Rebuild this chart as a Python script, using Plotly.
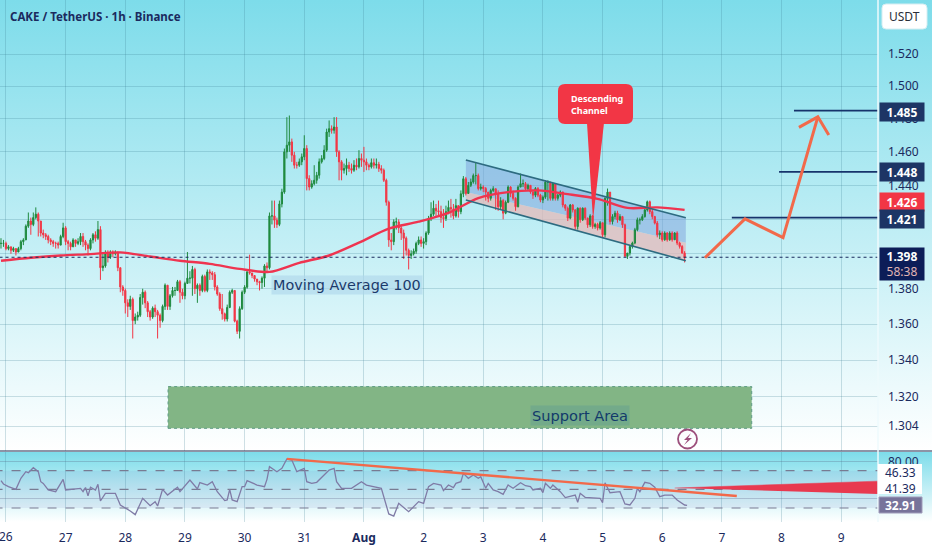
import base64
from datetime import datetime, timedelta
from math import log10

import plotly.graph_objects as go

# hourly candles, one row = 12 hours
closes = [
    1.406, 1.406, 1.403, 1.404, 1.402, 1.403, 1.401, 1.403, 1.407, 1.408, 1.416, 1.419,
    1.417, 1.421, 1.423, 1.419, 1.412, 1.411, 1.410, 1.408, 1.407, 1.406, 1.406, 1.405,
    1.410, 1.415, 1.407, 1.406, 1.404, 1.408, 1.406, 1.407, 1.410, 1.407, 1.405, 1.403,
    1.408, 1.411, 1.409, 1.414, 1.392, 1.393, 1.400, 1.398, 1.401, 1.400, 1.401, 1.392,
    1.381, 1.379, 1.372, 1.370, 1.374, 1.362, 1.364, 1.365, 1.375, 1.378, 1.372, 1.367,
    1.364, 1.369, 1.367, 1.365, 1.362, 1.370, 1.382, 1.370, 1.376, 1.379, 1.379, 1.384,
    1.378, 1.376, 1.383, 1.386, 1.386, 1.391, 1.380, 1.382, 1.379, 1.387, 1.379, 1.3896,
    1.389, 1.388, 1.381, 1.377, 1.3687, 1.3658, 1.3629, 1.3694, 1.378,
    1.379, 1.3617, 1.356, 1.3687, 1.378, 1.3809, 1.3896, 1.389, 1.3875, 1.3855, 1.384, 1.3835,
    1.386, 1.393, 1.392, 1.422, 1.422, 1.4195, 1.417, 1.429, 1.436, 1.460, 1.464, 1.466,
    1.458, 1.452, 1.452, 1.454, 1.457, 1.462, 1.444, 1.439, 1.441, 1.443, 1.446, 1.454,
    1.456, 1.461, 1.472, 1.474, 1.473, 1.475, 1.460, 1.454, 1.449, 1.450, 1.452, 1.450,
    1.449, 1.452, 1.451, 1.456, 1.455, 1.454, 1.452, 1.451, 1.4535, 1.452, 1.4525, 1.450,
    1.449, 1.443, 1.430, 1.408, 1.407, 1.4185, 1.4185, 1.415, 1.412, 1.409, 1.402, 1.399,
    1.400, 1.4015, 1.406, 1.408, 1.406, 1.407, 1.412, 1.4205, 1.423, 1.4265, 1.425, 1.4245,
    1.421, 1.4205, 1.4245, 1.427, 1.426, 1.422, 1.428,
    1.4245, 1.435, 1.4439, 1.4352, 1.440, 1.442, 1.4458, 1.4458, 1.4381, 1.439, 1.4381, 1.436,
    1.4323, 1.437, 1.438, 1.4352, 1.4274, 1.431, 1.4236, 1.430, 1.439, 1.4352, 1.4323, 1.4274,
    1.439, 1.441, 1.441, 1.438, 1.440, 1.4361, 1.4342, 1.4381, 1.4342, 1.4313, 1.433, 1.4419,
    1.4419, 1.4323, 1.441, 1.4323, 1.4342, 1.4361, 1.4284, 1.4265, 1.4207, 1.4284, 1.4255, 1.4158,
    1.4265, 1.4197, 1.4265, 1.4207, 1.4168, 1.422, 1.4158, 1.417, 1.4149, 1.418, 1.411, 1.4323,
    1.436, 1.4187, 1.4216, 1.4236, 1.4197, 1.4216, 1.4168, 1.3985, 1.4004, 1.4042, 1.4062, 1.4139,
    1.4197, 1.4197, 1.4216, 1.4255, 1.4303, 1.4245, 1.4216, 1.4178, 1.411, 1.412, 1.4081, 1.412,
    1.4081, 1.412, 1.4081, 1.412, 1.4062, 1.4042, 1.4004, 1.398,
]
highs = [
    1.409, 1.408, 1.407, 1.405, 1.404, 1.404, 1.403, 1.404, 1.408, 1.409, 1.417, 1.424,
    1.421, 1.424, 1.427, 1.424, 1.419, 1.414, 1.412, 1.411, 1.409, 1.408, 1.407, 1.407,
    1.411, 1.418, 1.416, 1.408, 1.407, 1.409, 1.408, 1.409, 1.412, 1.412, 1.408, 1.406,
    1.409, 1.412, 1.413, 1.419, 1.416, 1.401, 1.402, 1.402, 1.402, 1.402, 1.402, 1.401,
    1.392, 1.382, 1.380, 1.374, 1.376, 1.375, 1.366, 1.367, 1.377, 1.380, 1.379, 1.373,
    1.368, 1.370, 1.371, 1.368, 1.366, 1.371, 1.383, 1.382, 1.377, 1.381, 1.381, 1.385,
    1.385, 1.380, 1.384, 1.401, 1.390, 1.393, 1.392, 1.383, 1.383, 1.388, 1.388, 1.391,
    1.391, 1.390, 1.3895, 1.382, 1.378, 1.377, 1.3665, 1.371, 1.379,
    1.380, 1.379, 1.3625, 1.370, 1.379, 1.382, 1.390, 1.3995, 1.389, 1.3875, 1.385, 1.3845,
    1.387, 1.394, 1.395, 1.424, 1.431, 1.431, 1.421, 1.431, 1.438, 1.462, 1.481, 1.482,
    1.468, 1.460, 1.454, 1.456, 1.459, 1.470, 1.464, 1.446, 1.443, 1.452, 1.448, 1.456,
    1.458, 1.464, 1.474, 1.479, 1.476, 1.481, 1.481, 1.461, 1.455, 1.453, 1.456, 1.454,
    1.453, 1.455, 1.456, 1.461, 1.459, 1.463, 1.456, 1.453, 1.456, 1.456, 1.456, 1.454,
    1.452, 1.450, 1.444, 1.431, 1.412, 1.420, 1.421, 1.420, 1.416, 1.414, 1.410, 1.403,
    1.402, 1.403, 1.407, 1.410, 1.410, 1.409, 1.413, 1.422, 1.430, 1.431, 1.429, 1.431,
    1.428, 1.426, 1.428, 1.431, 1.432, 1.429, 1.432,
    1.426, 1.437, 1.4455, 1.445, 1.442, 1.444, 1.447, 1.4535, 1.447, 1.441, 1.440, 1.439,
    1.436, 1.438, 1.4395, 1.438, 1.437, 1.433, 1.432, 1.431, 1.440, 1.4395, 1.437, 1.433,
    1.440, 1.447, 1.4435, 1.442, 1.441, 1.440, 1.437, 1.439, 1.439, 1.435, 1.434, 1.443,
    1.443, 1.442, 1.4415, 1.441, 1.435, 1.437, 1.436, 1.429, 1.4275, 1.429, 1.429, 1.426,
    1.427, 1.427, 1.427, 1.427, 1.421, 1.423, 1.4225, 1.418, 1.418, 1.419, 1.418, 1.433,
    1.4381, 1.436, 1.423, 1.425, 1.425, 1.423, 1.422, 1.4175, 1.400, 1.405, 1.407, 1.415,
    1.421, 1.421, 1.423, 1.427, 1.431, 1.431, 1.426, 1.422, 1.419, 1.4135, 1.413, 1.413,
    1.4125, 1.413, 1.413, 1.4125, 1.413, 1.407, 1.405, 1.4015,
]
lows = [
    1.403, 1.404, 1.402, 1.402, 1.400, 1.401, 1.399, 1.401, 1.402, 1.405, 1.408, 1.415,
    1.411, 1.416, 1.420, 1.410, 1.410, 1.409, 1.408, 1.406, 1.405, 1.404, 1.403, 1.403,
    1.405, 1.409, 1.405, 1.402, 1.402, 1.404, 1.404, 1.405, 1.405, 1.404, 1.402, 1.399,
    1.402, 1.406, 1.407, 1.408, 1.385, 1.390, 1.392, 1.395, 1.397, 1.398, 1.399, 1.390,
    1.378, 1.376, 1.366, 1.364, 1.368, 1.352, 1.360, 1.362, 1.364, 1.371, 1.369, 1.364,
    1.362, 1.363, 1.364, 1.352, 1.358, 1.361, 1.368, 1.368, 1.368, 1.375, 1.376, 1.379,
    1.372, 1.374, 1.374, 1.383, 1.383, 1.376, 1.377, 1.372, 1.376, 1.378, 1.378, 1.378,
    1.385, 1.385, 1.379, 1.376, 1.3675, 1.3625, 1.3615, 1.3615, 1.369,
    1.377, 1.361, 1.3545, 1.352, 1.368, 1.377, 1.380, 1.388, 1.386, 1.384, 1.382, 1.379,
    1.380, 1.381, 1.389, 1.391, 1.417, 1.415, 1.415, 1.416, 1.427, 1.435, 1.456, 1.460,
    1.454, 1.450, 1.450, 1.451, 1.452, 1.455, 1.437, 1.437, 1.438, 1.440, 1.441, 1.444,
    1.453, 1.455, 1.460, 1.469, 1.471, 1.471, 1.457, 1.443, 1.443, 1.447, 1.446, 1.448,
    1.447, 1.448, 1.449, 1.450, 1.451, 1.448, 1.449, 1.449, 1.450, 1.450, 1.450, 1.448,
    1.447, 1.442, 1.428, 1.404, 1.402, 1.405, 1.414, 1.412, 1.408, 1.397, 1.399, 1.391,
    1.397, 1.399, 1.400, 1.405, 1.404, 1.403, 1.405, 1.411, 1.419, 1.422, 1.422, 1.422,
    1.418, 1.415, 1.419, 1.423, 1.421, 1.420, 1.421,
    1.421, 1.423, 1.433, 1.434, 1.435, 1.439, 1.441, 1.4405, 1.437, 1.437, 1.436, 1.431,
    1.430, 1.431, 1.436, 1.4255, 1.425, 1.426, 1.420, 1.423, 1.4295, 1.433, 1.431, 1.425,
    1.427, 1.4395, 1.439, 1.437, 1.437, 1.435, 1.432, 1.433, 1.433, 1.430, 1.4295, 1.432,
    1.431, 1.431, 1.431, 1.431, 1.431, 1.433, 1.427, 1.425, 1.419, 1.420, 1.424, 1.414,
    1.414, 1.418, 1.419, 1.4195, 1.415, 1.4155, 1.4145, 1.4145, 1.4135, 1.414, 1.4095, 1.4095,
    1.428, 1.417, 1.417, 1.420, 1.418, 1.419, 1.415, 1.3985, 1.397, 1.399, 1.403, 1.4055,
    1.413, 1.417, 1.419, 1.421, 1.4245, 1.423, 1.420, 1.417, 1.4095, 1.4085, 1.407, 1.4075,
    1.407, 1.4075, 1.407, 1.408, 1.405, 1.403, 1.400, 1.395,
]

ma_hours = [0, 12, 24, 36, 48, 60, 72, 84, 96, 108, 120, 132, 144, 156, 168, 180, 192, 204, 216, 228, 240, 252, 264, 275]
ma_values = [1.396, 1.3977, 1.399, 1.3998, 1.4008, 1.3984, 1.396, 1.3942, 1.3913, 1.3896, 1.3948, 1.399,
             1.4064, 1.4145, 1.4186, 1.4238, 1.4325, 1.436, 1.437, 1.4348, 1.432, 1.4267, 1.427, 1.4255]

rsi_hours = [0, 1, 3, 6, 8, 10, 11, 13, 15, 16, 17, 19, 22, 25, 26, 29, 32, 33, 34, 35, 36, 38, 39, 40, 42, 46,
             48, 52, 54, 57, 60, 62, 63, 65, 67, 71, 72, 76, 79, 80, 83, 85, 87, 90, 91, 92, 93, 95, 97, 98, 99,
             103, 106, 107, 108, 111, 113, 115, 117, 119, 122, 123, 125, 127, 130, 132, 134, 135, 137, 141, 145,
             147, 153, 156, 158, 160, 164, 168, 170, 172, 174, 177, 178, 180, 182, 183, 185, 186, 188, 190, 192,
             193, 195, 196, 198, 200, 202, 204, 206, 209, 211, 213, 214, 217, 218, 219, 221, 222, 225, 227, 231,
             232, 233, 235, 241, 242, 243, 245, 249, 251, 253, 255, 256, 257, 259, 261, 263, 265, 267, 270, 272,
             275, 276]
rsi_values = [59.3, 55.7, 52.9, 50, 61.8, 68.9, 67.9, 73.2, 68.9, 58.2, 56.4, 49.3, 47.5, 60.7, 49.3, 50.4, 51, 47.5,
              51.9, 43, 52.2, 49.3, 55.4, 37.5, 45.7, 45.7, 33.2, 26.8, 22.9, 40.4, 32.5, 36.8, 32.2, 50, 43.9, 52.2,
              47.5, 60, 50.4, 57.2, 54.6, 58.2, 47.5, 37.9, 38.6, 50, 38.6, 36.8, 52.9, 52.9, 59.3, 54.6, 52.9, 60.7,
              74.3, 68.9, 72.5, 82.5, 81.4, 68.9, 72.5, 58.2, 56.4, 57.5, 65.4, 70.7, 72.5, 58.2, 51, 51, 58.2, 54.6,
              51, 23.6, 21.4, 35, 26, 36.8, 35, 52.9, 56.4, 54.6, 48.6, 54.6, 51.9, 56.4, 58.2, 67.1, 61.8, 65.4, 61.8,
              63.6, 51.1, 56.4, 49.3, 47.5, 44.6, 54.6, 51.1, 57.1, 53.9, 52.9, 49.3, 51.1, 46.4, 56.4, 51.1, 54.6,
              47.5, 41.1, 43.9, 36.1, 45.7, 41.4, 40.4, 35.7, 57.1, 46.4, 47.5, 34.3, 33.2, 40.4, 51.1, 47.5, 57.5,
              56.4, 52.2, 42.2, 43.9, 43.9, 38.6, 33.2, 32.9]

price_ticks = [1.52, 1.50, 1.48, 1.46, 1.44, 1.42, 1.40, 1.38, 1.36, 1.34, 1.32, 1.304]
price_labels = ["1.520", "1.500", "1.480", "1.460", "1.440", "", "", "1.380", "1.360", "1.340", "1.320", "1.304"]
day_ticks = ["2025-07-26", "2025-07-27", "2025-07-28", "2025-07-29", "2025-07-30", "2025-07-31", "2025-08-01",
             "2025-08-02", "2025-08-03", "2025-08-04", "2025-08-05", "2025-08-06", "2025-08-07", "2025-08-08", "2025-08-09"]
day_labels = ["", "27", "28", "29", "30", "31", "<b>Aug</b>", "2", "3", "4", "5", "6", "7", "8", "9"]

# drawings on the chart, hours since first candle / price
channel_hours = [187, 275.5]
channel_top = [1.4551, 1.4209]
channel_mid = [1.436, 1.4064]
channel_bottom = [1.4313, 1.396]
target_hours = [319, 313, 294]
target_prices = [1.485, 1.448, 1.421]
arrow_hours = [283.2, 299.3, 314.6, 328.6]
arrow_prices = [1.3977, 1.4203, 1.4093, 1.4812]
head_hours = [321, 328.6, 333]
head_prices = [1.4748, 1.4812, 1.4702]
support_hours = [67.2, 302]
support_prices = [1.3029, 1.3255]
rsi_trend_hours = [115, 296]
rsi_trend_values = [82.6, 42.8]
wedge_hours = [271, 354, 354]
wedge_values = [51.4, 58.9, 45]

FONT = "Noto Sans"
NAVY = "#1b2a5e"
W, H, PLOT_W, PLOT_H = 932, 550, 878, 522
START = datetime(2025, 7, 25, 22)


def h2d(h):
    return START + timedelta(hours=h)


def dstr(h):
    return h2d(h).strftime("%Y-%m-%d_%H:%M")


def px_x(x):
    return x / PLOT_W


def px_y(y):
    return 1 - y / PLOT_H


def gradient(top, bottom):
    svg = (
        "<svg xmlns='http://www.w3.org/2000/svg' width='10' height='100' preserveAspectRatio='none' viewBox='0 0 10 100'>"
        "<defs><linearGradient id='g' x1='0' y1='0' x2='0' y2='1'>"
        f"<stop offset='0' stop-color='{top}'/><stop offset='1' stop-color='{bottom}'/>"
        "</linearGradient></defs><rect width='10' height='100' fill='url(#g)'/></svg>"
    )
    return "data:image/svg+xml;base64," + base64.b64encode(svg.encode()).decode()


def bg_image(y_top, y_bottom):
    return dict(source=gradient("#7ddcea", "#ffffff"), xref="paper", yref="paper", x=0, y=px_y(y_top),
                sizex=W / PLOT_W, sizey=(y_bottom - y_top) / PLOT_H, xanchor="left", yanchor="top",
                sizing="stretch", layer="below")


def rect_path(x0, y0, x1, y1, r):
    # rounded box, pixel input
    pts = [
        f"M {px_x(x0 + r)},{px_y(y0)}", f"L {px_x(x1 - r)},{px_y(y0)}", f"Q {px_x(x1)},{px_y(y0)} {px_x(x1)},{px_y(y0 + r)}",
        f"L {px_x(x1)},{px_y(y1 - r)}", f"Q {px_x(x1)},{px_y(y1)} {px_x(x1 - r)},{px_y(y1)}",
        f"L {px_x(x0 + r)},{px_y(y1)}", f"Q {px_x(x0)},{px_y(y1)} {px_x(x0)},{px_y(y1 - r)}",
        f"L {px_x(x0)},{px_y(y0 + r)}", f"Q {px_x(x0)},{px_y(y0)} {px_x(x0 + r)},{px_y(y0)} Z",
    ]
    return " ".join(pts)


def poly_path(points):
    return "M " + " L ".join(f"{px_x(x)},{px_y(y)}" for x, y in points) + " Z"


def price_box(price, text, color, height=16, shift=0):
    return dict(xref="paper", yref="y", x=1, y=log10(price), xanchor="left", xshift=1, yshift=shift, text=text,
                showarrow=False, bgcolor=color, width=42, height=height, font=dict(family=FONT, size=12, color="white"))


def free_text(x, y, text, size=12, color=NAVY, family=FONT, bg=None, anchor="center"):
    return dict(xref="paper", yref="paper", x=px_x(x), y=px_y(y), xanchor=anchor, yanchor="middle", text=text,
                showarrow=False, align="left", font=dict(family=family, size=size, color=color), bgcolor=bg)


hours = list(range(len(closes)))
dates = [h2d(h) for h in hours]
opens = [closes[0]] + closes[:-1]

fig = go.Figure()

fig.add_trace(go.Candlestick(
    x=dates, open=opens, high=highs, low=lows, close=closes,
    increasing=dict(line=dict(color="#1f8a3f", width=1), fillcolor="#1f8a3f"),
    decreasing=dict(line=dict(color="#f23645", width=1), fillcolor="#f23645"),
    whiskerwidth=0,
))
fig.add_trace(go.Scatter(x=[h2d(h) for h in ma_hours], y=ma_values, mode="lines",
                         line=dict(color="#ef3450", width=2.4, shape="spline", smoothing=0.8)))

# last price dotted line
fig.add_trace(go.Scatter(x=[h2d(-3), h2d(354)], y=[1.398, 1.398], mode="lines",
                         line=dict(color=NAVY, width=1.2, dash="dot")))

for h, p in zip(target_hours, target_prices):
    fig.add_trace(go.Scatter(x=[h2d(h), h2d(354)], y=[p, p], mode="lines", line=dict(color="#16336b", width=1.6)))

fig.add_trace(go.Scatter(x=[h2d(h) for h in arrow_hours], y=arrow_prices, mode="lines",
                         line=dict(color="#f2694a", width=3)))
fig.add_trace(go.Scatter(x=[h2d(h) for h in head_hours], y=head_prices, mode="lines",
                         line=dict(color="#f2694a", width=3)))

# RSI pane
fig.add_trace(go.Scatter(x=[h2d(h) for h in rsi_hours], y=rsi_values, mode="lines", xaxis="x2", yaxis="y2",
                         line=dict(color="#7f7ba6", width=1.3)))
fig.add_trace(go.Scatter(x=[h2d(h) for h in rsi_trend_hours], y=rsi_trend_values, mode="lines", xaxis="x2", yaxis="y2",
                         line=dict(color="#f2694a", width=2.4)))
fig.add_trace(go.Scatter(x=[h2d(h) for h in wedge_hours], y=wedge_values, mode="lines", fill="toself", xaxis="x2", yaxis="y2",
                         fillcolor="#e8394f", line=dict(color="#e8394f", width=0.5)))

shapes = []
# channel fills
shapes.append(dict(type="path", xref="x", yref="y", layer="between",
                   path=f"M {dstr(channel_hours[0])},{channel_top[0]} L {dstr(channel_hours[1])},{channel_top[1]} "
                        f"L {dstr(channel_hours[1])},{channel_mid[1]} L {dstr(channel_hours[0])},{channel_mid[0]} Z",
                   fillcolor="rgba(125,160,220,0.5)", line=dict(width=0)))
shapes.append(dict(type="path", xref="x", yref="y", layer="between",
                   path=f"M {dstr(channel_hours[0])},{channel_mid[0]} L {dstr(channel_hours[1])},{channel_mid[1]} "
                        f"L {dstr(channel_hours[1])},{channel_bottom[1]} L {dstr(channel_hours[0])},{channel_bottom[0]} Z",
                   fillcolor="rgba(228,185,185,0.75)", line=dict(width=0)))
for ys in (channel_top, channel_bottom):
    shapes.append(dict(type="line", xref="x", yref="y", x0=h2d(channel_hours[0]), x1=h2d(channel_hours[1]),
                       y0=ys[0], y1=ys[1], line=dict(color="#2d6b80", width=1.6)))
# support box
shapes.append(dict(type="rect", xref="x", yref="y", layer="between", x0=h2d(support_hours[0]), x1=h2d(support_hours[1]),
                   y0=support_prices[0], y1=support_prices[1], fillcolor="#82b585",
                   line=dict(color="#5f9c86", width=1, dash="dot")))
# RSI band and levels
shapes.append(dict(type="rect", xref="x2", yref="y2", layer="between", x0=h2d(-3), x1=h2d(354), y0=30, y1=70,
                   fillcolor="rgba(110,105,190,0.1)", line=dict(width=0)))
for level in (70, 50, 30):
    shapes.append(dict(type="line", xref="x2", yref="y2", layer="between", x0=h2d(-3), x1=h2d(354), y0=level, y1=level,
                       line=dict(color="#787b92", width=1.1, dash="dash")))
# callout
shapes.append(dict(type="path", xref="paper", yref="paper", path=rect_path(558, 84, 633, 124, 7),
                   fillcolor="#f23645", line=dict(width=0)))
shapes.append(dict(type="path", xref="paper", yref="paper", path=poly_path([(587, 123), (604, 123), (593, 220)]),
                   fillcolor="#f23645", line=dict(width=0)))
# separators
shapes.append(dict(type="line", xref="paper", yref="paper", x0=px_x(0), x1=W / PLOT_W, y0=px_y(451), y1=px_y(451),
                   line=dict(color="#1c2a4e", width=1.2)))
shapes.append(dict(type="line", xref="paper", yref="paper", x0=1, x1=1, y0=0, y1=1, line=dict(color="#eefafc", width=1.5)))
# USDT button, RSI value boxes
shapes.append(dict(type="path", xref="paper", yref="paper", path=rect_path(882, 4, 927, 29, 4),
                   fillcolor="white", line=dict(color="#d6eef2", width=1)))
shapes.append(dict(type="rect", xref="paper", yref="paper", x0=px_x(878), x1=px_x(922), y0=px_y(464), y1=px_y(494),
                   fillcolor="white", line=dict(width=0)))
shapes.append(dict(type="rect", xref="paper", yref="paper", x0=px_x(879), x1=px_x(922), y0=px_y(497), y1=px_y(513),
                   fillcolor="#77739a", line=dict(color="#a09cba", width=1)))
# lightning badge
shapes.append(dict(type="circle", xref="paper", yref="paper", x0=px_x(678), x1=px_x(697), y0=px_y(448.5), y1=px_y(429.5),
                   fillcolor="rgba(255,255,255,0.2)", line=dict(color="#9c4f7c", width=1.8)))
shapes.append(dict(type="path", xref="paper", yref="paper",
                   path=poly_path([(691, 433), (684, 440), (687.5, 440), (684, 445), (692, 438), (688, 438)]),
                   fillcolor="#9c4f7c", line=dict(width=0)))

annotations = [
    free_text(8, 16, "<b>CAKE / TetherUS · 1h · Binance</b>", size=11.5, anchor="left"),
    free_text(904.5, 16.5, "USDT", size=12, color="#2a2e39"),
    free_text(6, 536, "26", size=12),
    free_text(347, 285, "Moving Average 100", size=14.4, color="#1c3a6b", family="DejaVu Sans", bg="rgba(175,215,235,0.65)"),
    free_text(580, 415, "Support Area", size=14.6, color="#123a6b", family="DejaVu Sans", bg="rgba(90,150,150,0.35)"),
    free_text(569, 104, "<b>Descending<br>Channel</b>", size=9, color="white", anchor="left"),
    price_box(1.485, "<b>1.485</b>", "#1d3565", shift=-1.5),
    price_box(1.448, "<b>1.448</b>", "#1d3565"),
    price_box(1.426, "<b>1.426</b>", "#f23645", shift=7.5),
    price_box(1.421, "<b>1.421</b>", "#1d3565", shift=-1),
    price_box(1.398, "<b>1.398</b><br><span style='color:#e0b4b4'>58:38</span>", "#0c1d58", height=30, shift=-7),
    free_text(900, 472, "46.33", size=12),
    free_text(900, 488, "41.39", size=12),
    free_text(900, 505, "<b>32.91</b>", size=12, color="white"),
]

grid = "rgba(60,125,145,0.24)"
fig.update_layout(
    width=W, height=H, showlegend=False,
    margin=dict(l=0, r=W - PLOT_W, t=0, b=H - PLOT_H),
    paper_bgcolor="white", plot_bgcolor="rgba(0,0,0,0)",
    images=[bg_image(0, 451), bg_image(452, 522)],
    shapes=shapes, annotations=annotations,
    xaxis=dict(domain=[0, 1], range=[h2d(-0.4), h2d(352.8)], type="date", rangeslider=dict(visible=False),
               tickvals=day_ticks, ticktext=day_labels, showticklabels=False, anchor="y",
               showgrid=True, gridcolor=grid, gridwidth=1.4, zeroline=False),
    yaxis=dict(domain=[(PLOT_H - 451) / PLOT_H, 1], type="log", range=[log10(1.2908), log10(1.5542)], side="right",
               tickvals=price_ticks, ticktext=price_labels, ticklabelstandoff=9, anchor="x",
               tickfont=dict(family=FONT, size=12, color=NAVY), showgrid=True, gridcolor=grid, gridwidth=1.4,
               zeroline=False, showline=False),
    xaxis2=dict(domain=[0, 1], matches="x", type="date", anchor="y2", tickvals=day_ticks, ticktext=day_labels,
                tickfont=dict(family=FONT, size=12, color=NAVY), ticks="outside", ticklen=5, tickcolor="rgba(0,0,0,0)",
                showgrid=True, gridcolor=grid, gridwidth=1.4, zeroline=False),
    yaxis2=dict(domain=[0, (PLOT_H - 452) / PLOT_H], range=[15, 90], side="right", anchor="x2",
                tickvals=[80, 40], ticktext=["80.00", ""], ticklabelstandoff=9,
                tickfont=dict(family=FONT, size=12, color=NAVY), showgrid=True, gridcolor="rgba(90,100,130,0.3)",
                gridwidth=1.2, zeroline=False),
)

fig.write_html("out.html", config={"displayModeBar": False},
               post_script="document.body.style.margin='0';document.body.style.overflow='hidden';")
